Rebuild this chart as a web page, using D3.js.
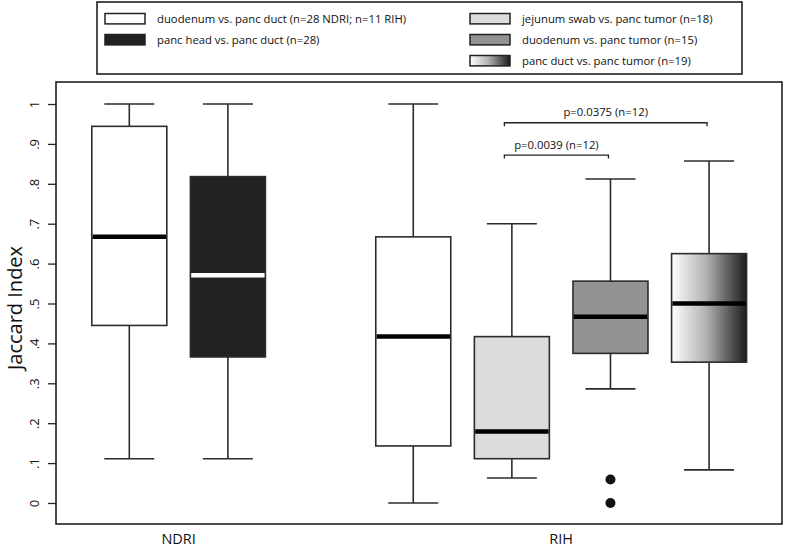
<!DOCTYPE html>
<html>
<head>
<meta charset="utf-8">
<script src="https://cdn.jsdelivr.net/npm/d3@7"></script>
<style>
  body { margin: 0; background: #fff; }
  svg { display: block; }
  text { font-family: "Open Sans", "Lato", sans-serif; fill: #111; }
</style>
</head>
<body>
<svg id="chart" width="786" height="547"></svg>
<script>
// ---------------- data ----------------
const groups = ["NDRI", "RIH"];

const seriesLabels = [
  "duodenum vs. panc duct (n=28 NDRI; n=11 RIH)",
  "panc head vs. panc duct (n=28)",
  "jejunum swab vs. panc tumor (n=18)",
  "duodenum vs. panc tumor (n=15)",
  "panc duct vs. panc tumor (n=19)"
];
const seriesFills = ["#ffffff", "#222222", "#dcdcdc", "#939393", "url(#grad)"];
const seriesMedianColors = ["#000000", "#ffffff", "#000000", "#000000", "#000000"];

const boxGroup   = [0, 0, 1, 1, 1, 1];
const boxSeries  = [0, 1, 0, 2, 3, 4];
const whiskerLow = [0.111, 0.111, 0.000, 0.0625, 0.286, 0.083];
const q1         = [0.445, 0.366, 0.143, 0.111, 0.375, 0.353];
const median     = [0.667, 0.571, 0.417, 0.179, 0.467, 0.500];
const q3         = [0.944, 0.818, 0.667, 0.417, 0.556, 0.625];
const whiskerHigh= [1.000, 1.000, 1.000, 0.700, 0.812, 0.857];
const outliers   = [[], [], [], [], [0.059, 0.0], []];

const yTicks = [0, 0.1, 0.2, 0.3, 0.4, 0.5, 0.6, 0.7, 0.8, 0.9, 1];
const yTickLabels = ["0", ".1", ".2", ".3", ".4", ".5", ".6", ".7", ".8", ".9", "1"];

const comparisons = [
  { from: 3, to: 4, level: 0.872, label: "p=0.0039 (n=12)" },
  { from: 3, to: 5, level: 0.953, label: "p=0.0375 (n=12)" }
];

// ---------------- layout ----------------
const svg = d3.select("#chart");
const frame = { left: 56, right: 782, top: 82, bottom: 524 };
const groupGap = 0.88;
const slotPos = boxGroup.map((g, i) => i + g * groupGap);

const x = d3.scaleLinear().domain([0, 1]).range([129.3, 227.9]);
const y = d3.scaleLinear().domain([0, 1]).range([503, 104]);
const boxW = 75, capW = 50;
const stroke = "#2b2b2b";

const defs = svg.append("defs");
const grad = defs.append("linearGradient").attr("id", "grad")
  .attr("x1", "0%").attr("x2", "100%").attr("y1", "0%").attr("y2", "0%");
grad.append("stop").attr("offset", "0%").attr("stop-color", "#ffffff");
grad.append("stop").attr("offset", "45%").attr("stop-color", "#b4b4b4");
grad.append("stop").attr("offset", "100%").attr("stop-color", "#1c1c1c");

// ---------------- legend ----------------
const legend = svg.append("g");
legend.append("rect").attr("x", 97).attr("y", 2).attr("width", 645).attr("height", 72)
  .attr("fill", "none").attr("stroke", "#111").attr("stroke-width", 1.5);
const legendCols = [0, 0, 1, 1, 1];
const legendRows = [0, 1, 0, 1, 2];
const colX = [105, 470];
seriesLabels.forEach((lab, i) => {
  const sx = colX[legendCols[i]];
  const cy = 18.7 + legendRows[i] * 21;
  legend.append("rect").attr("x", sx).attr("y", cy - 5.2).attr("width", 40).attr("height", 10.4)
    .attr("fill", seriesFills[i]).attr("stroke", "#222").attr("stroke-width", 1.5);
  legend.append("text").attr("x", sx + 52).attr("y", cy + 4)
    .attr("font-size", 11.3).text(lab);
});

// ---------------- frame ----------------
svg.append("rect").attr("x", frame.left).attr("y", frame.top)
  .attr("width", frame.right - frame.left).attr("height", frame.bottom - frame.top)
  .attr("fill", "none").attr("stroke", "#111").attr("stroke-width", 1.5);

// ---------------- y axis ----------------
const yAxis = svg.append("g").attr("transform", `translate(${frame.left},0)`)
  .call(d3.axisLeft(y).tickValues(yTicks).tickSize(8)
    .tickFormat((d, i) => yTickLabels[i]));
yAxis.select(".domain").remove();
yAxis.selectAll(".tick line").attr("stroke", "#222").attr("stroke-width", 1.3);
yAxis.selectAll(".tick text")
  .attr("x", null).attr("dy", null)
  .attr("transform", "translate(-17,0) rotate(-90)")
  .attr("text-anchor", "middle")
  .attr("font-size", 13)
  .attr("font-family", "'Open Sans', sans-serif")
  .attr("fill", "#111");

svg.append("text")
  .attr("transform", `translate(22,308) rotate(-90)`)
  .attr("text-anchor", "middle").attr("font-size", 20).text("Jaccard Index");

// ---------------- group labels ----------------
groups.forEach((g, gi) => {
  const pos = slotPos.filter((p, i) => boxGroup[i] === gi);
  svg.append("text").attr("x", x(d3.mean(pos))).attr("y", 544)
    .attr("text-anchor", "middle").attr("font-size", 14.5).text(g);
});

// ---------------- boxes ----------------
const boxes = svg.append("g");
boxGroup.forEach((g, i) => {
  const cx = x(slotPos[i]);
  const s = boxSeries[i];
  const bg = boxes.append("g");
  bg.append("line").attr("x1", cx).attr("x2", cx).attr("y1", y(whiskerHigh[i])).attr("y2", y(q3[i]))
    .attr("stroke", stroke).attr("stroke-width", 1.6);
  bg.append("line").attr("x1", cx).attr("x2", cx).attr("y1", y(q1[i])).attr("y2", y(whiskerLow[i]))
    .attr("stroke", stroke).attr("stroke-width", 1.6);
  [whiskerHigh[i], whiskerLow[i]].forEach(v => {
    bg.append("line").attr("x1", cx - capW / 2).attr("x2", cx + capW / 2)
      .attr("y1", y(v)).attr("y2", y(v)).attr("stroke", stroke).attr("stroke-width", 1.6);
  });
  bg.append("rect").attr("x", cx - boxW / 2).attr("y", y(q3[i]))
    .attr("width", boxW).attr("height", y(q1[i]) - y(q3[i]))
    .attr("fill", seriesFills[s]).attr("stroke", stroke).attr("stroke-width", 1.6);
  bg.append("line").attr("x1", cx - boxW / 2 + 0.8).attr("x2", cx + boxW / 2 - 0.8)
    .attr("y1", y(median[i])).attr("y2", y(median[i]))
    .attr("stroke", seriesMedianColors[s]).attr("stroke-width", 4.5);
  outliers[i].forEach(v => {
    bg.append("circle").attr("cx", cx).attr("cy", y(v)).attr("r", 5).attr("fill", "#111");
  });
});

// ---------------- comparison brackets ----------------
comparisons.forEach(c => {
  const x1 = x(slotPos[c.from]) - 7.5, x2 = x(slotPos[c.to]) - 2;
  const yy = y(c.level);
  svg.append("path")
    .attr("d", `M${x1},${yy + 3.5}V${yy}H${x2}V${yy + 3.5}`)
    .attr("fill", "none").attr("stroke", "#222").attr("stroke-width", 1.3);
  svg.append("text").attr("x", (x1 + x2) / 2).attr("y", yy - 6.5)
    .attr("text-anchor", "middle").attr("font-size", 11.3).text(c.label);
});
</script>
</body>
</html>
